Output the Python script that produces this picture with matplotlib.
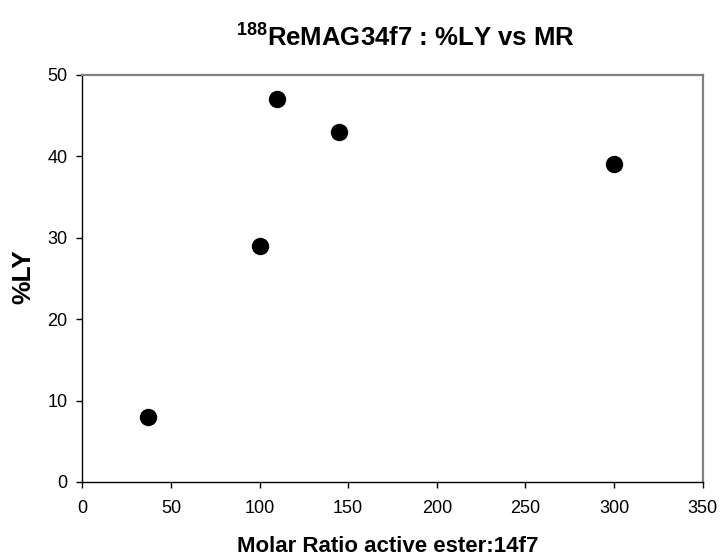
import matplotlib
matplotlib.use('Agg')
import matplotlib.pyplot as plt

# values
molar_ratio = [37, 100, 110, 145, 300]
pct_ly = [8, 29, 47, 43, 39]
x_ticks = [0, 50, 100, 150, 200, 250, 300, 350]
y_ticks = [0, 10, 20, 30, 40, 50]

plt.rcParams['font.family'] = ['Liberation Sans', 'DejaVu Sans']
plt.rcParams['mathtext.default'] = 'regular'

W, H = 720, 559
fig = plt.figure(figsize=(W / 100, H / 100), dpi=100)
ax = fig.add_axes([82.3 / W, 1 - 482 / H, (702.7 - 82.3) / W, (482 - 74.7) / H])

ax.plot(molar_ratio, pct_ly, 'o', color='black', markersize=11.5)

ax.set_xlim(0, 350)
ax.set_ylim(0, 50)
ax.set_xticks(x_ticks)
ax.set_yticks(y_ticks)
ax.tick_params(direction='out', length=4.3, width=1, labelsize=13)
ax.tick_params(axis='x', pad=8.5)
ax.tick_params(axis='y', pad=6.5)

for side in ('left', 'bottom'):
    ax.spines[side].set_color('black')
    ax.spines[side].set_linewidth(1)
for side in ('top', 'right'):
    ax.spines[side].set_color('#808080')
    ax.spines[side].set_linewidth(1.6)

# labels placed to match the reference layout
fig.text(405 / W, 1 - 46.7 / H, r'$^{188}$ReMAG34f7 : %LY vs MR',
         fontsize=18.5, fontweight='bold', ha='center', va='baseline')
fig.text(388 / W, 1 - 552 / H, 'Molar Ratio active ester:14f7',
         fontsize=16, fontweight='bold', ha='center', va='baseline')
fig.text(23 / W, 1 - 276.5 / H, '%LY', fontsize=19, fontweight='bold',
         rotation=90, ha='center', va='center')

fig.savefig('out.png', dpi=100)
